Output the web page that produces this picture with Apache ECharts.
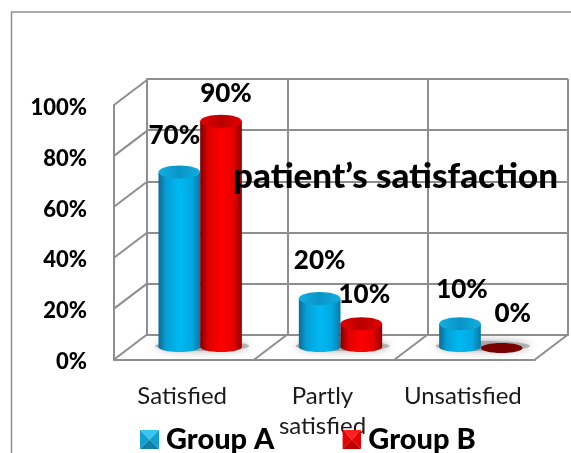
<!DOCTYPE html>
<html><head><meta charset="utf-8">
<style>html,body{margin:0;padding:0;background:#fff}#c{width:571px;height:453px}</style>
<script src="https://cdn.jsdelivr.net/npm/echarts@6/dist/echarts.min.js"></script>
</head><body><div id="c"></div>
<script>
const categories = ['Satisfied', 'Partly\nsatisfied', 'Unsatisfied'];
const groupA = [70, 20, 10];
const groupB = [90, 10, 0];
const yTicks = [0, 20, 40, 60, 80, 100];
const titleText = 'patient’s satisfaction';
const labelNudgeA = [[-5, -36], [0, -38], [2, -34]];
const labelNudgeB = [[5, -28], [3, -29], [11, -35]];

const FONT = 'Lato';
const LINE = '#8e8e8e';
const DEPTH = [33, -25];

function hGrad(stops) {
  return new echarts.graphic.LinearGradient(0, 0, 1, 0, stops.map((c, i) => ({offset: c[0], color: c[1]})));
}
const blueBody = hGrad([[0,'#0b6a94'],[0.18,'#059fd6'],[0.5,'#00b9f2'],[0.8,'#02a8e0'],[1,'#0a77a4']]);
const blueCap = hGrad([[0,'#12aee2'],[0.5,'#0a94c6'],[1,'#12aee2']]);
const redBody = hGrad([[0,'#7c0000'],[0.18,'#dc0000'],[0.5,'#ff0000'],[0.8,'#e60000'],[1,'#8c0000']]);
const redCap = hGrad([[0,'#e60000'],[0.5,'#b80000'],[1,'#e60000']]);

function bevelIcon(top, left, right, bottom) {
  const svg = "<svg xmlns='http://www.w3.org/2000/svg' width='19' height='19'>" +
    "<polygon points='0,0 19,0 9.5,9.5' fill='" + top + "'/>" +
    "<polygon points='0,0 0,19 9.5,9.5' fill='" + left + "'/>" +
    "<polygon points='19,0 19,19 9.5,9.5' fill='" + right + "'/>" +
    "<polygon points='0,19 19,19 9.5,9.5' fill='" + bottom + "'/></svg>";
  return 'image://data:image/svg+xml,' + encodeURIComponent(svg);
}

function cylinder(values, nudge, side, body, cap, zeroColor) {
  return function (params, api) {
    const i = api.value(0), v = api.value(1);
    const band = api.size([1, 0])[0];
    const w = band * 0.297;
    const top = api.coord([i, v]);
    const base = api.coord([i, 0]);
    const cx = top[0] + side * w / 2;
    const rx = w / 2;
    const children = [];
    if (v === 0) {
      children.push({type: 'ellipse', shape: {cx: cx, cy: base[1] - 1, rx: rx, ry: 5}, style: {fill: zeroColor}});
    } else {
      const botY = base[1] - 2;
      children.push({type: 'ellipse', shape: {cx: cx, cy: botY, rx: rx, ry: 5}, style: {fill: body}});
      children.push({type: 'rect', shape: {x: cx - rx, y: top[1], width: w, height: botY - top[1]}, style: {fill: body}});
      children.push({type: 'ellipse', shape: {cx: cx, cy: top[1], rx: rx, ry: 6.5}, style: {fill: cap}});
    }
    const n = nudge[params.dataIndex];
    children.push({type: 'text', z2: 50, style: {
      x: cx + n[0], y: top[1] + n[1], text: values[params.dataIndex] + '%',
      font: '900 26px ' + FONT, fill: '#000', align: 'center', verticalAlign: 'middle'}});
    return {type: 'group', children: children};
  };
}

const option = {
  animation: false,
  backgroundColor: '#fff',
  title: {text: titleText, left: 228, top: 154, textStyle: {fontFamily: FONT, fontWeight: 900, fontSize: 35, color: '#000'}, z: 20},
  legend: {
    left: 135, top: 420, itemWidth: 19, itemHeight: 19, itemGap: 68, selectedMode: false,
    textStyle: {fontFamily: FONT, fontWeight: 900, fontSize: 29, color: '#000', padding: [0, 0, 0, 2]},
    data: [
      {name: 'Group A', icon: bevelIcon('#35c6f2', '#0ea2d4', '#0ea2d4', '#0a80aa')},
      {name: 'Group B', icon: bevelIcon('#ff2020', '#e80000', '#e80000', '#c00000')}
    ]
  },
  graphic: [{type: 'rect', silent: true, z: -10, shape: {x: 11.5, y: 12, width: 700, height: 600}, style: {fill: null, stroke: LINE, lineWidth: 1.5}}],
  grid: [
    {left: 147, width: 421, top: 79, height: 256},
    {left: 114, width: 421, top: 105, height: 254.5},
    {left: 130, width: 421, top: 96, height: 253},
    {left: 112, width: 421, top: 108, height: 254}
  ],
  xAxis: [
    {gridIndex: 0, type: 'category', data: categories, axisLabel: {show: false}, axisTick: {show: false},
      axisLine: {lineStyle: {color: LINE, width: 2}},
      splitLine: {show: true, showMinLine: true, showMaxLine: true, lineStyle: {color: LINE, width: 2}}},
    {gridIndex: 1, type: 'category', data: categories, axisTick: {show: false}, axisLabel: {show: false},
      axisLine: {lineStyle: {color: LINE, width: 2}}},
    {gridIndex: 2, type: 'category', data: categories, show: false},
    {gridIndex: 3, type: 'category', data: categories, axisTick: {show: false}, axisLine: {show: false},
      axisLabel: {margin: 19, interval: 0, fontFamily: FONT, fontSize: 24, color: '#1a1a1a', lineHeight: 30}}
  ],
  yAxis: [
    {gridIndex: 0, type: 'value', min: 0, max: 100, interval: 20, axisLabel: {show: false}, axisTick: {show: false},
      axisLine: {show: true, lineStyle: {color: LINE, width: 2}},
      splitLine: {show: true, lineStyle: {color: LINE, width: 2}}},
    {gridIndex: 1, type: 'value', min: 0, max: 100, interval: 20, axisTick: {show: false}, axisLabel: {show: false},
      axisLine: {show: true, lineStyle: {color: LINE, width: 2}},
      splitLine: {show: false}},
    {gridIndex: 2, type: 'value', min: 0, max: 100, show: false},
    {gridIndex: 3, type: 'value', min: 0, max: 100, interval: 20, axisTick: {show: false}, axisLine: {show: false}, splitLine: {show: false},
      axisLabel: {margin: 25, formatter: '{value}%', fontFamily: FONT, fontWeight: 900, fontSize: 22, color: '#000'}}
  ],
  series: [
    {type: 'custom', name: 'wallDiagonals', xAxisIndex: 1, yAxisIndex: 1, z: 1, silent: true,
      data: yTicks.map(t => [0, t]),
      renderItem: function (params, api) {
        const p = api.coord([0, api.value(1)]);
        const x = p[0] - api.size([1, 0])[0] / 2;
        return {type: 'line', shape: {x1: x, y1: p[1], x2: x + DEPTH[0], y2: p[1] + DEPTH[1]}, style: {stroke: LINE, lineWidth: 2}};
      }},
    {type: 'custom', name: 'floorDividers', xAxisIndex: 1, yAxisIndex: 1, z: 1, silent: true,
      data: categories.map((c, i) => [i, 0]),
      renderItem: function (params, api) {
        const p = api.coord([api.value(0), 0]);
        const x = p[0] + api.size([1, 0])[0] / 2;
        return {type: 'line', shape: {x1: x, y1: p[1], x2: x + DEPTH[0], y2: p[1] + DEPTH[1]}, style: {stroke: LINE, lineWidth: 2}};
      }},
    {type: 'custom', name: 'floorShadow', xAxisIndex: 2, yAxisIndex: 2, z: 2, silent: true,
      data: categories.map((c, i) => [i, 0]),
      renderItem: function (params, api) {
        const p = api.coord([api.value(0), 0]);
        return {type: 'ellipse', shape: {cx: p[0] + 2, cy: p[1] - 3, rx: 47, ry: 5},
          style: {fill: '#9a9a9a', opacity: 0.7, shadowBlur: 8, shadowColor: '#8a8a8a'}};
      }},
    {type: 'custom', name: 'Group A', xAxisIndex: 2, yAxisIndex: 2, z: 5,
      itemStyle: {color: '#00b0ea'},
      data: groupA.map((v, i) => [i, v]),
      encode: {x: 0, y: 1},
      renderItem: cylinder(groupA, labelNudgeA, -1, blueBody, blueCap, '#0a6f9a')},
    {type: 'custom', name: 'Group B', xAxisIndex: 2, yAxisIndex: 2, z: 6,
      itemStyle: {color: '#ff0000'},
      data: groupB.map((v, i) => [i, v]),
      encode: {x: 0, y: 1},
      renderItem: cylinder(groupB, labelNudgeB, 1, redBody, redCap, '#7a0000')}
  ]
};
const chart = echarts.init(document.getElementById('c'), null, {renderer: 'canvas'});
chart.setOption(option);
</script></body></html>
